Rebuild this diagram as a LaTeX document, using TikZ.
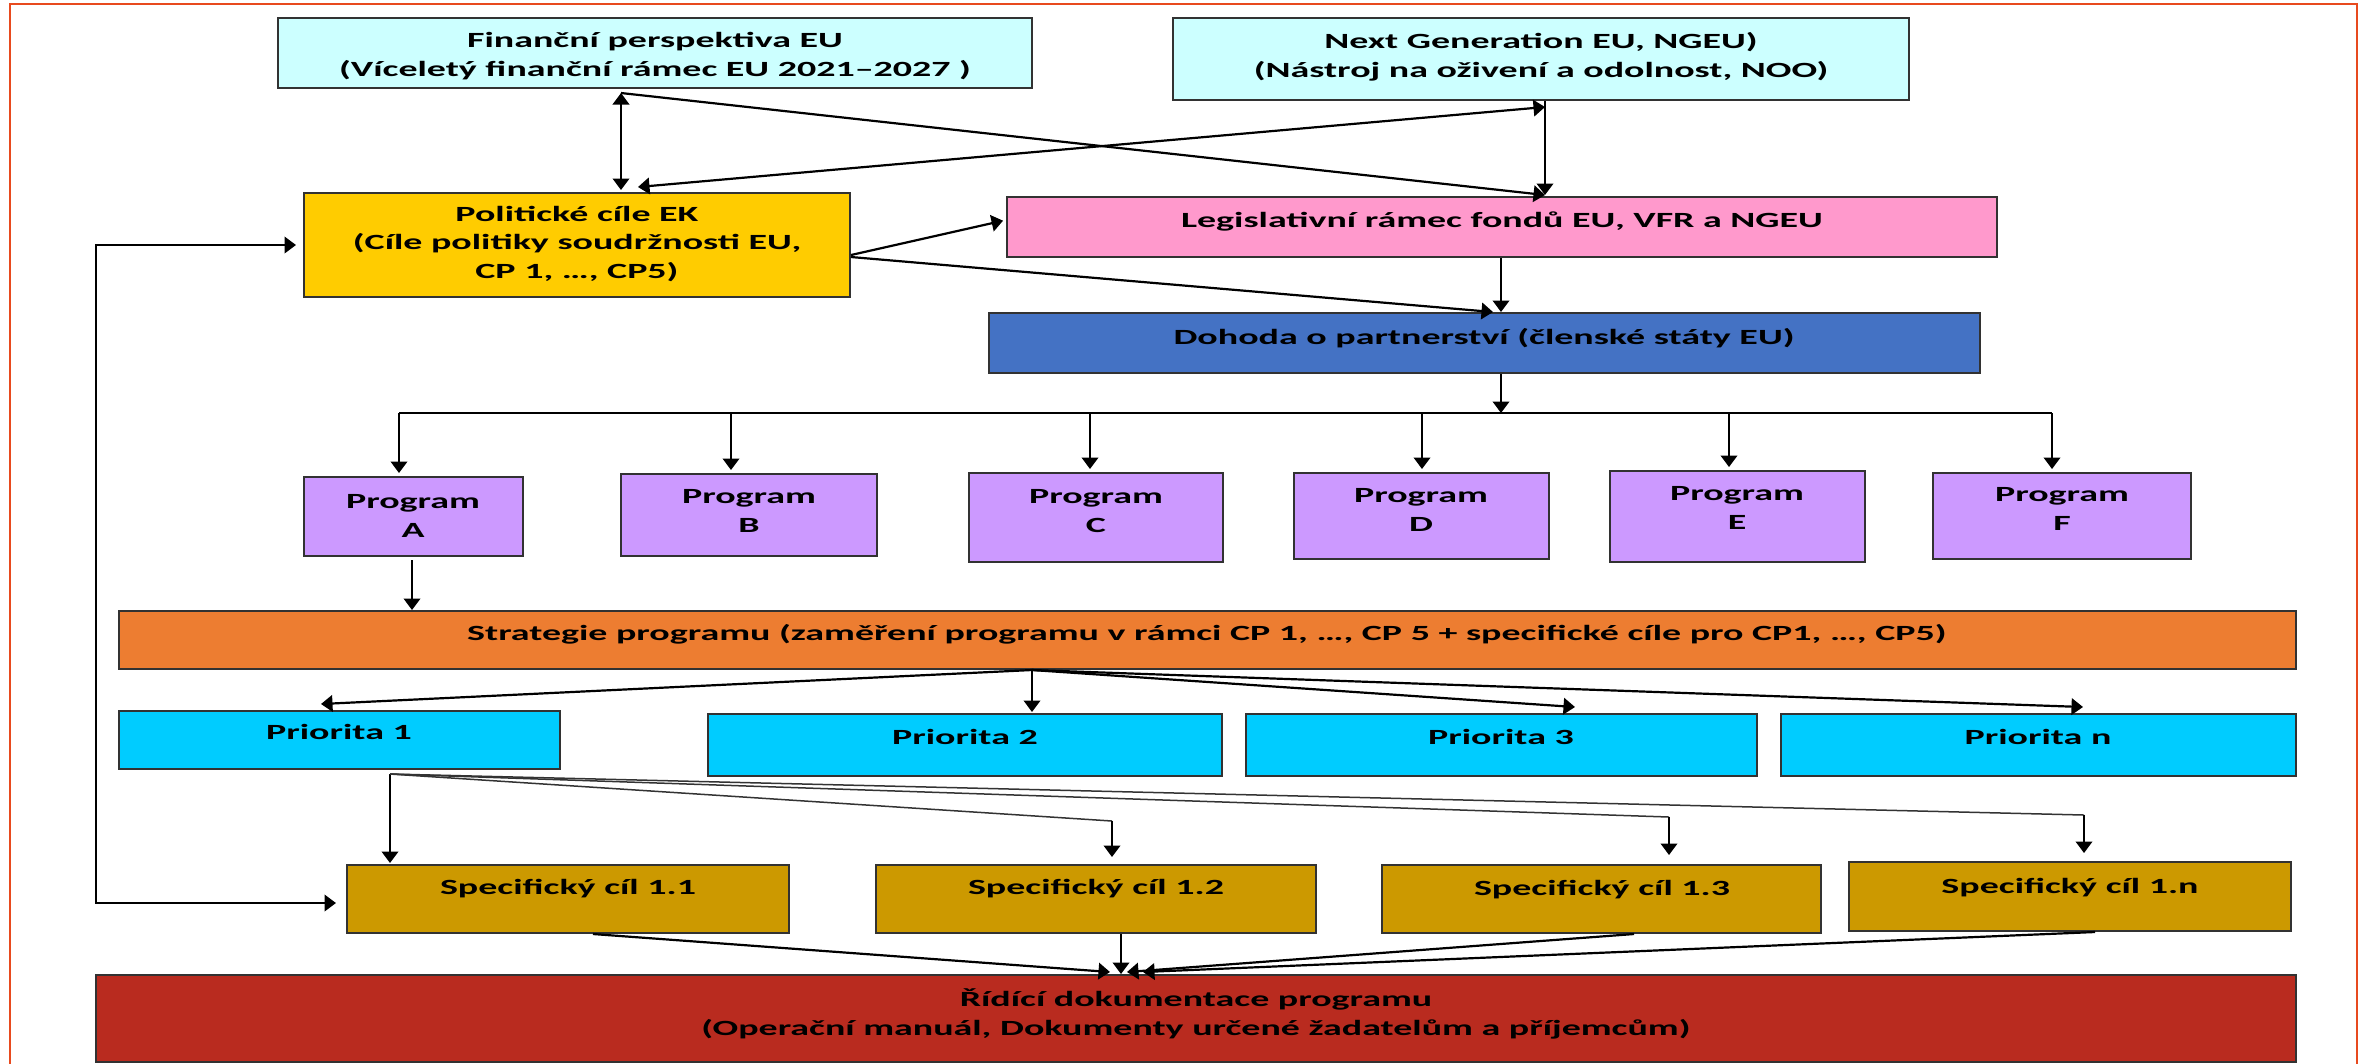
\documentclass[tikz,border=0pt]{standalone}
\usepackage{fontspec}
\setmainfont{Carlito}[FakeStretch=1.75]
\usetikzlibrary{arrows.meta,fit,calc}
\definecolor{cyanl}{RGB}{204,255,255}
\definecolor{goldc}{RGB}{255,204,0}
\definecolor{pinkl}{RGB}{255,153,204}
\definecolor{blued}{RGB}{68,114,196}
\definecolor{lav}{RGB}{204,153,255}
\definecolor{orng}{RGB}{237,125,49}
\definecolor{skyb}{RGB}{0,204,255}
\definecolor{ochre}{RGB}{204,153,0}
\definecolor{brick}{RGB}{185,43,31}
\definecolor{frameclr}{RGB}{232,74,30}
\definecolor{boxline}{RGB}{50,50,50}
\begin{document}
\begin{tikzpicture}[x=0.1mm,y=-0.1mm,
  box/.style={draw=boxline,line width=0.2mm,inner sep=0pt},
  lbl/.style={font=\fontsize{6.17pt}{8.2pt}\selectfont\bfseries,align=center,inner sep=0pt,text=black},
  conn/.style={line width=0.22mm,draw=black},
  arr/.style={conn,-{Triangle[length=1.15mm,width=1.65mm]}},
  dbl/.style={conn,{Triangle[length=1.15mm,width=1.65mm]}-{Triangle[length=1.15mm,width=1.65mm]}},
  fine/.style={line width=0.15mm,draw=black!80}]
\clip (0,0) rectangle (2374,1063);
\fill[white] (0,0) rectangle (2374,1063);
\draw[frameclr,line width=0.25mm] (10,4) rectangle (2357,1120);
% boxes
\node[box,fill=cyanl,fit={(278,18) (1032,88)}] (fin) {};
\node[lbl] (fint) at (655,56) {Finanční perspektiva EU\\(Víceletý finanční rámec EU 2021–2027 )};
\node[box,fill=cyanl,fit={(1173,18) (1909,100)}] (ngeu) {};
\node[lbl] (ngeut) at (1541,57) {Next Generation EU, NGEU)\\(Nástroj na oživení a odolnost, NOO)};
\node[box,fill=goldc,fit={(304,193) (850,297)}] (pol) {};
\node[lbl] (polt) at (577,244) {Politické cíle EK\\(Cíle politiky soudržnosti EU,\\CP 1, …, CP5)};
\node[box,fill=pinkl,fit={(1007,197) (1997,257)}] (legis) {};
\node[lbl,anchor=base] (legist) at (1502,227) {Legislativní rámec fondů EU, VFR a NGEU};
\node[box,fill=blued,fit={(989,313) (1980,373)}] (doh) {};
\node[lbl,anchor=base] (doht) at (1484,344) {Dohoda o partnerství (členské státy EU)};
% programs
\node[box,fill=lav,fit={(304,477) (523,556)}] (pa) {};
\node[lbl] (pat) at (413,516) {Program\\A};
\node[box,fill=lav,fit={(621,474) (877,556)}] (pb) {};
\node[lbl] (pbt) at (749,511) {Program\\B};
\node[box,fill=lav,fit={(969,473) (1223,562)}] (pc) {};
\node[lbl] (pct) at (1096,511) {Program\\C};
\node[box,fill=lav,fit={(1294,473) (1549,559)}] (pd) {};
\node[lbl] (pdt) at (1421,510) {Program\\D};
\node[box,fill=lav,fit={(1610,471) (1865,562)}] (pe) {};
\node[lbl] (pet) at (1737,508) {Program\\E};
\node[box,fill=lav,fit={(1933,473) (2191,559)}] (pf) {};
\node[lbl] (pft) at (2062,509) {Program\\F};
% strategy
\node[box,fill=orng,fit={(119,611) (2296,669)}] (strat) {};
\node[lbl,anchor=base] (stratt) at (1207,640) {Strategie programu (zaměření programu v rámci CP 1, …, CP 5 + specifické cíle pro CP1, …, CP5)};
% priorities
\node[box,fill=skyb,fit={(119,711) (560,769)}] (pr1) {};
\node[lbl,anchor=base] (pr1t) at (339,739) {Priorita 1};
\node[box,fill=skyb,fit={(708,714) (1222,776)}] (pr2) {};
\node[lbl,anchor=base] (pr2t) at (965,744) {Priorita 2};
\node[box,fill=skyb,fit={(1246,714) (1757,776)}] (pr3) {};
\node[lbl,anchor=base] (pr3t) at (1501,744) {Priorita 3};
\node[box,fill=skyb,fit={(1781,714) (2296,776)}] (prn) {};
\node[lbl,anchor=base] (prnt) at (2038,744) {Priorita n};
% specific objectives
\node[box,fill=ochre,fit={(347,865) (789,933)}] (s11) {};
\node[lbl,anchor=base] (s11t) at (568,894) {Specifický cíl 1.1};
\node[box,fill=ochre,fit={(876,865) (1316,933)}] (s12) {};
\node[lbl,anchor=base] (s12t) at (1096,894) {Specifický cíl 1.2};
\node[box,fill=ochre,fit={(1382,865) (1821,933)}] (s13) {};
\node[lbl,anchor=base] (s13t) at (1602,895) {Specifický cíl 1.3};
\node[box,fill=ochre,fit={(1849,862) (2291,931)}] (s1n) {};
\node[lbl,anchor=base] (s1nt) at (2070,893) {Specifický cíl 1.n};
% management documentation
\node[box,fill=brick,fit={(96,975) (2296,1062)}] (rid) {};
\node[lbl] (ridt) at (1196,1014) {Řídící dokumentace programu\\(Operační manuál, Dokumenty určené žadatelům a příjemcům)};
% ---- connectors ----
\coordinate (fb) at (621,93);
\coordinate (lt) at (1545,195);
\coordinate (pt) at (638,187);
\coordinate (nb) at (1545,107);
\draw[dbl,shorten >=0.2mm] (fb) -- (fb |- pol.north);
\draw[arr] (fb) -- (lt);
\draw[dbl] (pt) -- (nb);
\draw[arr] (nb |- ngeu.south) -- (lt);
\draw[arr,shorten >=0.3mm] (pol.east |- 0,255) -- (legis.west |- 0,220);
\draw[arr] (pol.east |- 0,257) -- (1493,0 |- doh.north);
\draw[arr] (1501,0 |- legis.south) -- (1501,0 |- doh.north);
\coordinate (bus) at (1501,413);
\draw[arr] (bus |- doh.south) -- (bus);
\draw[conn] (399,413) -- (2052,413);
\foreach \n/\x in {pa/399,pb/731,pc/1090,pd/1422,pe/1729,pf/2052}
  \draw[arr,shorten >=0.3mm] (\x,413) -- (\x,0 |- \n.north);
\draw[arr,shorten <=0.3mm] (412,0 |- pa.south) -- (412,0 |- strat.north);
\coordinate (sf) at (1032,670);
\draw[arr] (sf) -- (321,704);
\draw[arr,shorten >=0.1mm] (sf) -- (sf |- pr2.north);
\draw[arr] (sf) -- (1575,707);
\draw[arr] (sf) -- (2083,707);
\coordinate (pfan) at (390,774);
\draw[arr,shorten >=0.1mm] (pfan) -- (pfan |- s11.north);
\draw[fine] (pfan) -- (1112,821);
\draw[arr] (1112,821) -- (1112,857);
\draw[fine] (pfan) -- (1669,817);
\draw[arr] (1669,817) -- (1669,855);
\draw[fine] (pfan) -- (2084,815);
\draw[arr] (2084,815) -- (2084,853);
\draw[arr] (593,0 |- s11.south) -- (1110,972);
\draw[arr] (1121,0 |- s12.south) -- (1121,0 |- rid.north);
\draw[arr] (1634,0 |- s13.south) -- (1127,972);
\draw[arr] (2095,0 |- s1n.south) -- (1143,972);
\draw[dbl,shorten <=0.7mm,shorten >=1mm] (pol.west |- 0,245) -- (96,245) -- (96,903) -- (s11.west |- 0,903);
\end{tikzpicture}
\end{document}
